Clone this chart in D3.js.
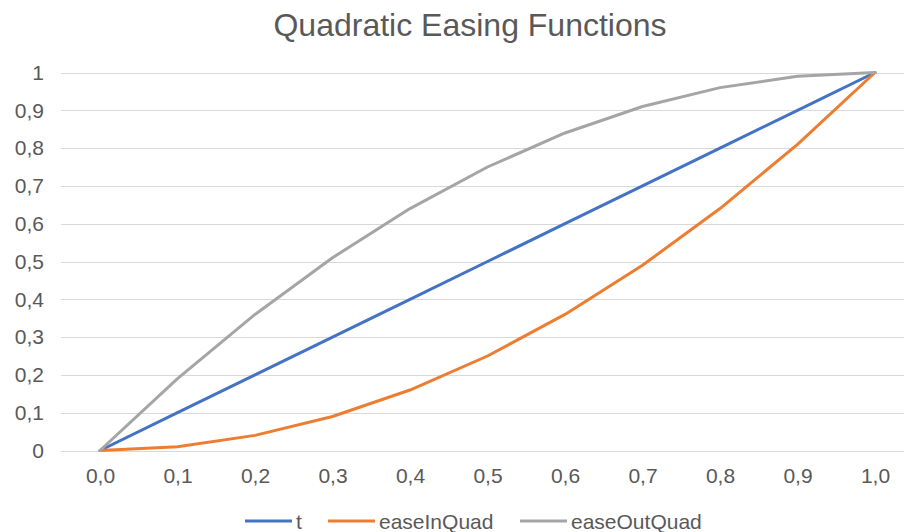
<!DOCTYPE html>
<html>
<head>
<meta charset="utf-8">
<script src="https://cdn.jsdelivr.net/npm/d3@7"></script>
<style>
  html, body { margin: 0; padding: 0; background: #fff; }
  text { font-family: "Liberation Sans", Arial, sans-serif; }
</style>
</head>
<body>
<svg id="chart" width="904" height="532"></svg>
<script>
const title = "Quadratic Easing Functions";
const categories = ["0,0","0,1","0,2","0,3","0,4","0,5","0,6","0,7","0,8","0,9","1,0"];
const seriesNames = ["t", "easeInQuad", "easeOutQuad"];
const tValues = [0, 0.1, 0.2, 0.3, 0.4, 0.5, 0.6, 0.7, 0.8, 0.9, 1];
const easeInQuadValues = [0, 0.01, 0.04, 0.09, 0.16, 0.25, 0.36, 0.49, 0.64, 0.81, 1];
const easeOutQuadValues = [0, 0.19, 0.36, 0.51, 0.64, 0.75, 0.84, 0.91, 0.96, 0.99, 1];
const yTicks = [0, 0.1, 0.2, 0.3, 0.4, 0.5, 0.6, 0.7, 0.8, 0.9, 1];
const yTickLabels = ["0","0,1","0,2","0,3","0,4","0,5","0,6","0,7","0,8","0,9","1"];
const colors = ["#4472C4", "#ED7D31", "#A5A5A5"];

const series = [
  { name: seriesNames[0], values: tValues, color: colors[0] },
  { name: seriesNames[1], values: easeInQuadValues, color: colors[1] },
  { name: seriesNames[2], values: easeOutQuadValues, color: colors[2] }
];

const svg = d3.select("#chart");
const textColor = "#595959";

const x = d3.scalePoint().domain(categories).range([61.25, 913.75]).padding(0.5);
const y = d3.scaleLinear().domain([0, 1]).range([450.5, 72.5]);

// title
svg.append("text")
  .attr("x", 470).attr("y", 36)
  .attr("text-anchor", "middle")
  .attr("font-size", 32)
  .attr("fill", textColor)
  .text(title);

// gridlines
svg.append("g").selectAll("line").data(yTicks).join("line")
  .attr("x1", 61).attr("x2", 904)
  .attr("y1", d => Math.round(y(d)) + 0.5).attr("y2", d => Math.round(y(d)) + 0.5)
  .attr("stroke", "#d9d9d9").attr("stroke-width", 1);

// y axis labels
const yAxis = d3.axisLeft(y).tickValues(yTicks).tickSize(0).tickPadding(0)
  .tickFormat((d, i) => yTickLabels[i]);
const gy = svg.append("g").attr("transform", "translate(44,0)").call(yAxis);
gy.select(".domain").remove();
gy.selectAll("text").attr("font-size", 21).attr("fill", textColor)
  .attr("font-family", "'Liberation Sans', Arial, sans-serif");

// x axis labels
const xAxis = d3.axisBottom(x).tickSize(0).tickPadding(0);
const gx = svg.append("g").attr("transform", "translate(0,468)").call(xAxis);
gx.select(".domain").remove();
gx.selectAll("text").attr("font-size", 21).attr("fill", textColor)
  .attr("font-family", "'Liberation Sans', Arial, sans-serif");

// lines
const line = d3.line().x((d, i) => x(categories[i])).y(d => y(d));
svg.append("g").selectAll("path").data(series).join("path")
  .attr("d", d => line(d.values))
  .attr("fill", "none")
  .attr("stroke", d => d.color)
  .attr("stroke-width", 3)
  .attr("stroke-linejoin", "round")
  .attr("stroke-linecap", "round");

// legend
const legendX = [245, 328, 520];
const lg = svg.append("g").selectAll("g").data(series).join("g")
  .attr("transform", (d, i) => `translate(${legendX[i]},521)`);
lg.append("line").attr("x1", 0).attr("x2", 47).attr("y1", 0).attr("y2", 0)
  .attr("stroke", d => d.color).attr("stroke-width", 3);
lg.append("text").attr("x", 51).attr("y", 7.5)
  .attr("font-size", 21).attr("fill", textColor)
  .text(d => d.name);
</script>
</body>
</html>
